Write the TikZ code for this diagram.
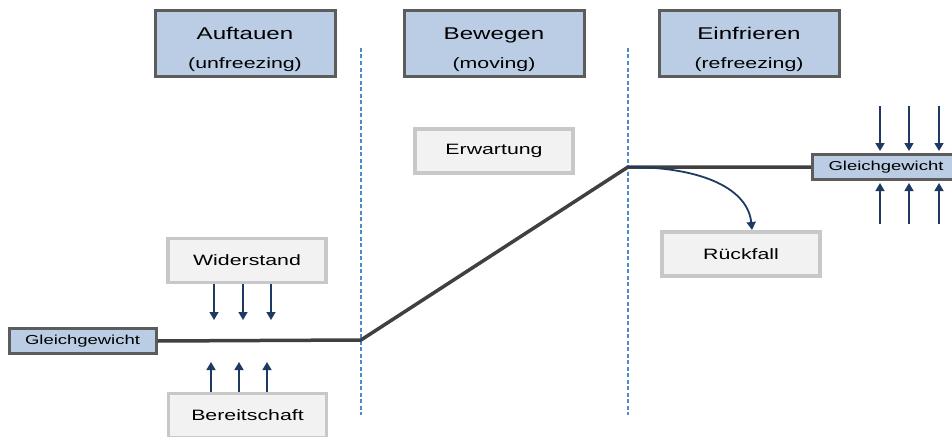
\documentclass[tikz,border=0pt]{standalone}
\usepackage{fontspec}
\newfontfamily\wf[FakeStretch=1.42]{Liberation Sans}
\usetikzlibrary{arrows.meta}
\definecolor{hdrfill}{RGB}{186,205,228}
\definecolor{hdrdraw}{RGB}{92,92,92}
\definecolor{boxfill}{RGB}{242,242,242}
\definecolor{boxdraw}{RGB}{200,200,200}
\definecolor{mainline}{RGB}{64,64,64}
\definecolor{dotblue}{RGB}{79,138,204}
\definecolor{navy}{RGB}{31,58,98}
\tikzset{
  hdr/.style={draw=hdrdraw, fill=hdrfill, line width=3pt, minimum width=180pt, minimum height=65pt, inner sep=0pt},
  htitle/.style={anchor=base, inner sep=0pt, font=\wf\fontsize{17}{20}\selectfont},
  hsub/.style={anchor=base, inner sep=0pt, font=\wf\fontsize{15}{18}\selectfont},
  gbox/.style={draw=hdrdraw, fill=hdrfill, line width=3pt, minimum width=147pt, minimum height=25pt, inner sep=0pt,
    font=\wf\fontsize{13}{15}\selectfont},
  graybox/.style={draw=boxdraw, fill=boxfill, line width=3.5pt, minimum width=158pt, minimum height=44pt, inner sep=0pt,
    font=\wf\fontsize{15}{18}\selectfont},
  mline/.style={draw=mainline, line width=3.5pt},
  sep/.style={draw=dotblue, line width=1.5pt, dash pattern=on 4pt off 2.5pt},
  farrow/.style={draw=navy, line width=1.5pt, -{Triangle[width=9pt,length=8pt]}}
}
\begin{document}
\begin{tikzpicture}[x=1pt,y=-1pt]
\useasboundingbox (0,0) rectangle (952,436);
% separators
\coordinate (s1t) at (361,48);
\coordinate (s1b) at (361,415);
\coordinate (s2t) at (628,48);
\coordinate (s2b) at (628,415);
\draw[sep] (s1t) -- (s1b);
\draw[sep] (s2t) -- (s2b);
% headers
\node[hdr] (h1) at (245,43.5) {};
\node[hdr] (h2) at (494,43.5) {};
\node[hdr] (h3) at (749,43.5) {};
\node[htitle] (t1) at (245,40) {Auftauen};
\node[hsub] (u1) at (245,68) {(unfreezing)};
\node[htitle] (t2) at (494,40) {Bewegen};
\node[hsub] (u2) at (494,68) {(moving)};
\node[htitle] (t3) at (749,40) {Einfrieren};
\node[hsub] (u3) at (749,68) {(refreezing)};
% equilibrium boxes
\node[gbox] (g1) at (82.5,341) {Gleichgewicht};
\node[gbox] (g2) at (886,167) {Gleichgewicht};
% gray boxes
\node[graybox] (wi) at (247,260.5) {Widerstand};
\node[graybox] (be) at (247.5,415.5) {Bereitschaft};
\node[graybox] (er) at (494,151) {Erwartung};
\node[graybox] (rf) at (741,254) {Rückfall};
% main line
\coordinate (p1) at (361,340);
\coordinate (p2) at (628,167);
\draw[mline] (g1.east) -- (p1) -- (p2) -- (g2.west);
% forces left
\foreach \x in {214,243,271}{
  \coordinate (a\x) at (\x,320);
  \draw[farrow] (wi.south -| a\x) -- (a\x);
}
\foreach \x in {211,239,267}{
  \coordinate (b\x) at (\x,362);
  \draw[farrow] (be.north -| b\x) -- (b\x);
}
% forces right
\foreach \x in {880,909,939}{
  \coordinate (c\x) at (\x,106);
  \coordinate (d\x) at (\x,151);
  \draw[farrow] (c\x) -- (d\x);
  \coordinate (e\x) at (\x,224);
  \coordinate (f\x) at (\x,183);
  \draw[farrow] (e\x) -- (f\x);
}
% relapse
\coordinate (rt) at (752,230);
\draw[farrow, line width=1.8pt] (p2) .. controls (705,167) and (748,190) .. (rt);
\end{tikzpicture}
\end{document}
